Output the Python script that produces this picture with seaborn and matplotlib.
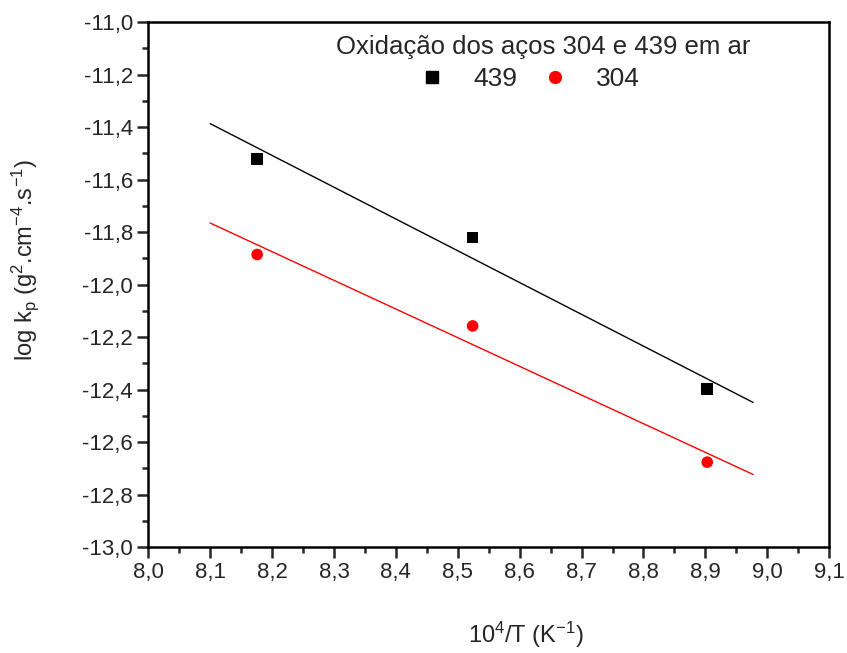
import numpy as np
import pandas as pd
import matplotlib
matplotlib.use("Agg")
import matplotlib.pyplot as plt
import seaborn as sns
from matplotlib.ticker import MultipleLocator, FuncFormatter
from matplotlib.lines import Line2D

# data
inv_T = [8.176, 8.524, 8.903]
logkp_439 = [-11.52, -11.82, -12.397]
logkp_304 = [-11.885, -12.157, -12.676]
fit_range = [8.1, 8.977]

sns.set_style("white")
plt.rcParams['font.family'] = ['Liberation Sans', 'DejaVu Sans']
plt.rcParams['mathtext.fontset'] = 'custom'
plt.rcParams['mathtext.rm'] = 'Liberation Sans'
plt.rcParams['mathtext.it'] = 'Liberation Sans'
plt.rcParams['axes.unicode_minus'] = False

df = pd.DataFrame({
    "x": inv_T * 2,
    "y": logkp_439 + logkp_304,
    "aço": ["439"] * 3 + ["304"] * 3,
})

colors = {"439": "black", "304": "red"}
markers = {"439": "s", "304": "o"}

fig, ax = plt.subplots(figsize=(8.47, 6.53), dpi=100)
fig.subplots_adjust(left=0.175, right=0.979, top=0.966, bottom=0.162)

sns.scatterplot(data=df, x="x", y="y", hue="aço", style="aço",
                palette=colors, markers=markers, s=70, edgecolor="none",
                legend=False, ax=ax, zorder=3)

# linear fits
xf = np.array(fit_range)
for name, ys in [("439", logkp_439), ("304", logkp_304)]:
    m, b = np.polyfit(inv_T, ys, 1)
    ax.plot(xf, m * xf + b, color=colors[name], lw=1.0)

ax.set_xlim(8.0, 9.1)
ax.set_ylim(-13.0, -11.0)
ax.xaxis.set_major_locator(MultipleLocator(0.1))
ax.xaxis.set_minor_locator(MultipleLocator(0.05))
ax.yaxis.set_major_locator(MultipleLocator(0.2))
ax.yaxis.set_minor_locator(MultipleLocator(0.1))
fmt = FuncFormatter(lambda v, p: f"{v:.1f}".replace(".", ","))
ax.xaxis.set_major_formatter(fmt)
ax.yaxis.set_major_formatter(fmt)

for s in ax.spines.values():
    s.set_linewidth(1.8)
    s.set_color("black")
ax.tick_params(which="major", direction="out", length=8, width=1.8,
               labelsize=16, bottom=True, left=True, top=False, right=False, pad=3)
ax.tick_params(which="minor", direction="out", length=4.5, width=1.8,
               bottom=True, left=True, top=False, right=False)

ax.set_xlabel("10$^{4}$/T (K$^{-1}$)", fontsize=17)
ax.set_ylabel("log k$_{p}$ (g$^{2}$.cm$^{-4}$.s$^{-1}$)", fontsize=17)
ax.xaxis.set_label_coords(0.554, -0.139)
ax.yaxis.set_label_coords(-0.157, 0.547)

# legend title drawn separately so the entries can sit slightly left of it
ax.text(0.580, 0.952, "Oxidação dos aços 304 e 439 em ar", transform=ax.transAxes,
        ha="center", va="center", fontsize=18.5)
handles = [Line2D([], [], marker="s", ls="", color="black", markersize=8),
           Line2D([], [], marker="o", ls="", color="red", markersize=8.5)]
ax.legend(handles, ["439", "304"], ncol=2, frameon=False, fontsize=19,
          loc="center", bbox_to_anchor=(0.550, 0.8914),
          handletextpad=0.55, columnspacing=0.45, borderpad=0.0)

fig.savefig("out.png", dpi=100)
